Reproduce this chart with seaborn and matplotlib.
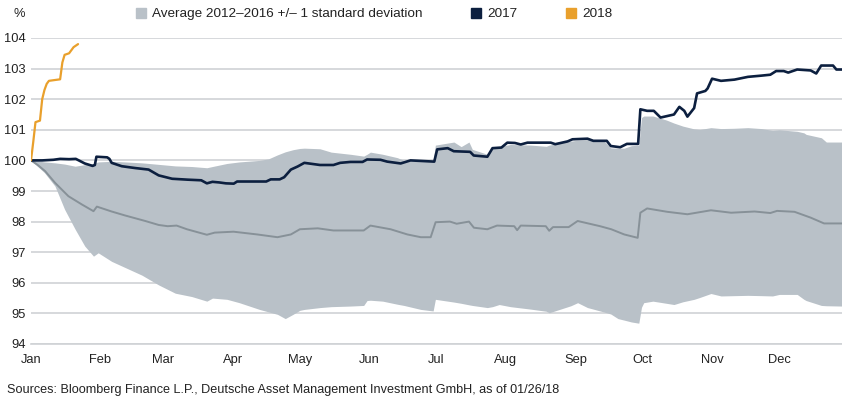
import matplotlib
matplotlib.use('Agg')
import matplotlib.pyplot as plt
from matplotlib.patches import Patch
import seaborn as sns

# month axis (day of year)
months = ['Jan', 'Feb', 'Mar', 'Apr', 'May', 'Jun', 'Jul', 'Aug', 'Sep', 'Oct', 'Nov', 'Dec']
month_days = [0, 31, 59, 90, 120, 151, 181, 212, 243, 273, 304, 334]

# band: average 2012-2016 +/- 1 std
band_day = [0, 3, 6, 10.7, 15, 19.7, 24, 27.9, 30, 36, 42, 49.5, 57, 64.4, 71.8, 78.5, 81, 87.5,
            93, 102, 106, 110, 113.5, 117, 120, 122, 129, 134, 142.6, 148.5, 150, 151.5, 157,
            163.5, 166.5, 174, 179.5, 180.5, 188.8, 192, 195.5, 197, 203.7, 206, 209, 214, 223,
            230, 231.3, 241, 244, 248.4, 250, 256, 258.8, 262, 264.8, 268, 271.3, 272.5, 273.5,
            277.6, 283.6, 287, 291, 296, 298.5, 303.5, 308, 314, 320, 326, 331, 334, 342, 345,
            346, 352.8, 355, 362]
band_hi = [100, 99.98, 99.95, 99.92, 99.88, 99.81, 99.86, 99.9, 99.95, 99.97, 99.95, 99.92, 99.87,
           99.82, 99.8, 99.76, 99.8, 99.9, 99.95, 100.0, 100.05, 100.18, 100.28, 100.35, 100.39,
           100.4, 100.38, 100.27, 100.2, 100.14, 100.2, 100.27, 100.2, 100.09, 100.0, 100.0, 100.0,
           100.5, 100.6, 100.45, 100.6, 100.36, 100.2, 100.41, 100.45, 100.52, 100.5, 100.46, 100.5,
           100.63, 100.66, 100.68, 100.69, 100.62, 100.41, 100.4, 100.4, 100.48, 100.5, 101.4,
           101.45, 101.45, 101.32, 101.22, 101.12, 101.03, 101.01, 101.07, 101.04, 101.05, 101.07,
           101.04, 100.98, 101.0, 100.95, 100.9, 100.85, 100.74, 100.6, 100.6]
band_lo = [100, 99.8, 99.6, 99.16, 98.4, 97.75, 97.2, 96.87, 96.98, 96.7, 96.5, 96.25, 95.93,
           95.66, 95.55, 95.4, 95.5, 95.46, 95.35, 95.13, 95.05, 94.97, 94.83, 94.97, 95.1, 95.13,
           95.19, 95.22, 95.24, 95.26, 95.42, 95.43, 95.4, 95.3, 95.26, 95.13, 95.08, 95.46, 95.37,
           95.33, 95.28, 95.26, 95.19, 95.22, 95.29, 95.22, 95.14, 95.07, 95.02, 95.25, 95.35,
           95.19, 95.16, 95.04, 94.98, 94.83, 94.78, 94.72, 94.68, 95.2, 95.35, 95.4, 95.33, 95.29,
           95.38, 95.46, 95.52, 95.65, 95.57, 95.58, 95.59, 95.58, 95.57, 95.62, 95.62, 95.46,
           95.42, 95.26, 95.25, 95.24]

# average 2012-2016
avg_day = [0, 3, 6.3, 10.7, 16.7, 22.7, 27.9, 29.4, 36, 42, 51, 57, 61, 65, 69.6, 77, 78.5, 82,
           90.4, 101, 110, 116, 120, 128, 135, 148.5, 151.5, 160.5, 168, 174, 178.4, 180.6, 187,
           190, 195.5, 197.7, 203.7, 208, 215.7, 217, 218.6, 229.8, 231.3, 233, 240, 244, 254, 259,
           264.8, 270.8, 272, 275, 284, 293, 303.5, 312.5, 323, 330, 333, 340.8, 348, 354, 362]
avg_val = [100, 99.85, 99.65, 99.27, 98.83, 98.56, 98.34, 98.49, 98.33, 98.2, 98.02, 97.89, 97.85,
           97.87, 97.75, 97.6, 97.57, 97.64, 97.67, 97.58, 97.49, 97.58, 97.75, 97.78, 97.71, 97.71,
           97.87, 97.75, 97.58, 97.49, 97.49, 97.98, 98.0, 97.93, 98.0, 97.8, 97.75, 97.87, 97.85,
           97.72, 97.87, 97.85, 97.7, 97.82, 97.82, 98.02, 97.85, 97.75, 97.58, 97.47, 98.29, 98.43,
           98.32, 98.24, 98.37, 98.29, 98.33, 98.28, 98.35, 98.32, 98.13, 97.94, 97.94]

# 2017
d2017 = [0, 5, 10, 13, 17, 20, 24, 27.5, 28.5, 29.2, 34, 35, 36, 40.5, 46.5, 52.5, 57, 63, 70, 76,
         78.5, 81, 84, 87, 90.5, 92, 99, 105, 107, 111, 113, 116, 119, 122, 129, 135, 138, 142.6,
         148, 150, 156, 159, 165, 169.4, 180, 181.3, 186, 188.7, 196, 197.6, 203.7, 206, 210, 212.6,
         216, 218.6, 221.6, 232, 234, 239.5, 241.7, 248.4, 251, 257, 258.8, 263, 266, 271, 272, 275,
         278, 281, 284, 287, 289.4, 291.6, 293, 296, 297.3, 301, 302, 304, 308, 314, 320, 326, 330,
         332.6, 336, 338, 342, 348, 350.5, 352.7, 358, 359.5, 362]
v2017 = [100, 100.0, 100.02, 100.05, 100.04, 100.05, 99.9, 99.82, 99.85, 100.12, 100.1, 100.05,
         99.92, 99.81, 99.75, 99.7, 99.51, 99.4, 99.37, 99.35, 99.25, 99.3, 99.28, 99.25, 99.24,
         99.31, 99.31, 99.31, 99.38, 99.38, 99.45, 99.7, 99.8, 99.92, 99.85, 99.85, 99.92, 99.95,
         99.95, 100.03, 100.02, 99.96, 99.9, 100.0, 99.96, 100.36, 100.4, 100.3, 100.28, 100.16,
         100.12, 100.4, 100.42, 100.58, 100.57, 100.52, 100.58, 100.58, 100.53, 100.62, 100.69,
         100.71, 100.64, 100.64, 100.47, 100.43, 100.54, 100.54, 101.67, 101.62, 101.62, 101.4,
         101.45, 101.5, 101.75, 101.62, 101.43, 101.71, 102.19, 102.27, 102.35, 102.67, 102.6,
         102.64, 102.73, 102.77, 102.8, 102.92, 102.92, 102.87, 102.97, 102.94, 102.84, 103.1,
         103.1, 102.97, 102.97]

# 2018
d2018 = [0, 1, 2, 4, 5, 6, 7, 8, 13, 14, 15, 17, 18, 19, 21]
v2018 = [100, 100.6, 101.25, 101.3, 102.0, 102.3, 102.5, 102.6, 102.65, 103.2, 103.45, 103.5,
         103.6, 103.7, 103.8]

band_color = '#b9c1c8'
avg_color = '#879198'
navy = '#0c1f3f'
orange = '#e9a02c'
grid_color = '#cfd2d5'
text_color = '#222222'

sns.set_style('white')
plt.rcParams['font.family'] = ['Liberation Sans', 'DejaVu Sans']
plt.rcParams['text.color'] = text_color
plt.rcParams['xtick.color'] = text_color
plt.rcParams['ytick.color'] = text_color

fig = plt.figure(figsize=(8.42, 3.98), dpi=100)
ax = fig.add_axes([31 / 842, 54 / 398, 811 / 842, 306 / 398])

ax.fill_between(band_day, band_lo, band_hi, color=band_color, lw=0, zorder=2)
sns.lineplot(x=avg_day, y=avg_val, ax=ax, color=avg_color, lw=1.4, estimator=None, sort=False, zorder=3)
sns.lineplot(x=d2017, y=v2017, ax=ax, color=navy, lw=1.9, estimator=None, sort=False, zorder=4)
sns.lineplot(x=d2018, y=v2018, ax=ax, color=orange, lw=1.6, estimator=None, sort=False, zorder=5)

ax.set_xlim(0, 362)
ax.set_ylim(94, 104)
ax.set_yticks(range(94, 105))
ax.set_xticks(month_days)
ax.set_xticklabels(months)
ax.set_xlabel('')
ax.set_ylabel('')
ax.grid(axis='y', color=grid_color, lw=1.2)
ax.grid(axis='x', visible=False)
ax.set_axisbelow(True)
for s in ['top', 'right', 'left']:
    ax.spines[s].set_visible(False)
ax.spines['bottom'].set_color(grid_color)
ax.spines['bottom'].set_linewidth(1.2)
ax.tick_params(axis='x', direction='out', length=3.8, width=1, color=grid_color, pad=3.2, labelsize=9.3)
ax.tick_params(axis='y', length=0, pad=4.0, labelsize=9.3)

handles = [Patch(color=band_color), Patch(color=navy), Patch(color=orange)]
labels = ['Average 2012\u20132016 +/\u2013 1 standard deviation', '2017', '2018']
fig.legend(handles, labels, loc='center left', bbox_to_anchor=(136 / 842, 1 - 14 / 398),
           ncol=3, frameon=False, handlelength=0.75, handleheight=0.75, handletextpad=0.45,
           columnspacing=3.6, borderpad=0, borderaxespad=0, fontsize=9.7)

fig.text(25 / 842, 1 - 14 / 398, '%', ha='right', va='center', fontsize=9.3)
fig.text(7 / 842, 1 - 390 / 398,
         'Sources: Bloomberg Finance L.P., Deutsche Asset Management Investment GmbH, as of 01/26/18',
         ha='left', va='center', fontsize=9.1)

fig.savefig('out.png', dpi=100)
